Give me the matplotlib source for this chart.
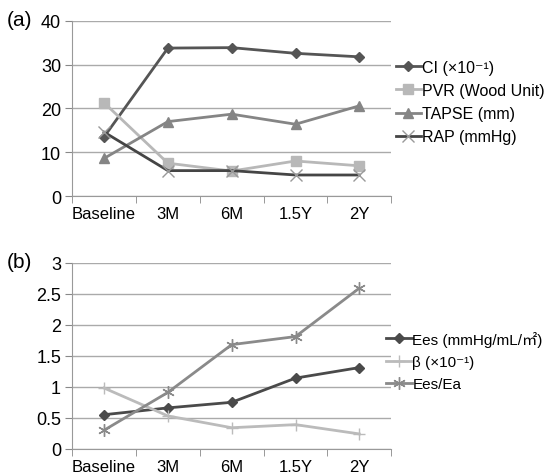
import matplotlib
matplotlib.use("Agg")
import matplotlib.pyplot as plt

plt.rcParams['font.family'] = ['Liberation Sans', 'DejaVu Sans', 'Noto Sans CJK JP']

# --- Data ---
timepoints = ["Baseline", "3M", "6M", "1.5Y", "2Y"]

ci = [13.5, 33.8, 33.9, 32.6, 31.8]
pvr = [21.3, 7.5, 5.7, 8.0, 6.9]
tapse = [8.6, 17.0, 18.7, 16.4, 20.6]
rap = [14.6, 5.8, 5.8, 4.8, 4.8]

ees = [0.55, 0.66, 0.75, 1.14, 1.31]
beta = [0.98, 0.53, 0.34, 0.39, 0.24]
ees_ea = [0.30, 0.91, 1.68, 1.81, 2.59]

fig = plt.figure(figsize=(5.51, 4.77), dpi=100)
ax1 = fig.add_axes([0.131, 0.587, 0.579, 0.367])
ax2 = fig.add_axes([0.131, 0.057, 0.579, 0.390])

x = range(len(timepoints))


def style_axes(ax, ylim, yticks, ylabels):
    ax.set_xlim(-0.5, len(timepoints) - 0.5)
    ax.set_ylim(*ylim)
    ax.set_yticks(yticks)
    ax.set_yticklabels(ylabels)
    ax.set_xticks(list(x))
    ax.set_xticklabels(timepoints)
    ax.set_xticks([i - 0.5 for i in range(len(timepoints) + 1)], minor=True)
    ax.tick_params(axis='x', which='major', length=0, pad=7, labelsize=12)
    ax.tick_params(axis='x', which='minor', length=5, color='#888888', direction='out')
    ax.tick_params(axis='y', length=5, color='#888888', labelsize=13, pad=3)
    for s in ['top', 'right']:
        ax.spines[s].set_visible(False)
    for s in ['left', 'bottom']:
        ax.spines[s].set_color('#999999')
    ax.yaxis.grid(True, color='#aaaaaa', linewidth=1)
    ax.set_axisbelow(True)


# --- Panel (a) ---
ax1.plot(x, ci, color='#555555', lw=2, marker='D', ms=5, label="CI (×10⁻¹)")
ax1.plot(x, pvr, color='#b8b8b8', lw=2, marker='s', ms=7, label="PVR (Wood Unit)")
ax1.plot(x, tapse, color='#858585', lw=2, marker='^', ms=7, label="TAPSE (mm)")
ax1.plot(x, rap, color='#454545', lw=2, marker='x', ms=8, mec='#999999', label="RAP (mmHg)")
style_axes(ax1, (0, 40), [0, 10, 20, 30, 40], ["0", "10", "20", "30", "40"])
ax1.legend(loc='center left', bbox_to_anchor=(0.718, 0.784), bbox_transform=fig.transFigure,
           frameon=False, fontsize=11.5, handlelength=1.6, handletextpad=0.05,
           labelspacing=0.52, borderpad=0, borderaxespad=0)

# --- Panel (b) ---
ax2.plot(x, ees, color='#4a4a4a', lw=2, marker='D', ms=5, label="Ees (mmHg/mL/㎡)")
ax2.plot(x, beta, color='#bbbbbb', lw=2, marker='+', ms=9, label="β (×10⁻¹)")
ax2.plot(x, ees_ea, color='#8a8a8a', lw=2, marker=(6, 2, 0), ms=9, label="Ees/Ea")
style_axes(ax2, (0, 3), [0, 0.5, 1, 1.5, 2, 2.5, 3], ["0", "0.5", "1", "1.5", "2", "2.5", "3"])
ax2.legend(loc='center left', bbox_to_anchor=(0.700, 0.241), bbox_transform=fig.transFigure,
           frameon=False, fontsize=11, handlelength=1.7, handletextpad=0.05,
           labelspacing=0.55, borderpad=0, borderaxespad=0)

fig.text(0.012, 0.956, "(a)", fontsize=15, va='center', ha='left')
fig.text(0.012, 0.449, "(b)", fontsize=15, va='center', ha='left')

fig.savefig("out.png", dpi=100)
